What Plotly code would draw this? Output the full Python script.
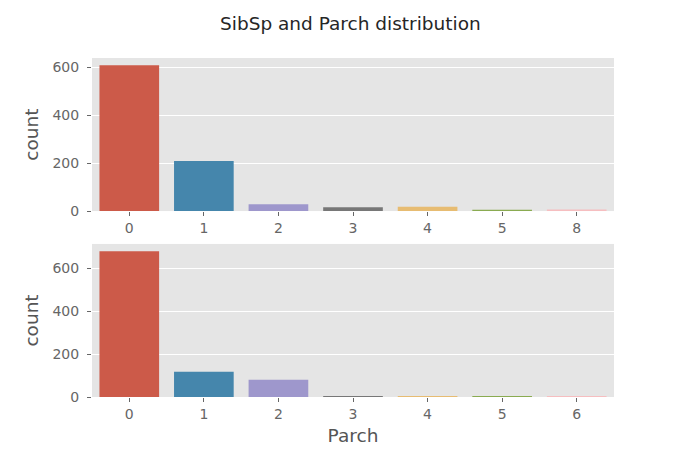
import plotly.graph_objects as go
from plotly.subplots import make_subplots

sibsp_cats = ["0", "1", "2", "3", "4", "5", "8"]
sibsp_counts = [608, 209, 28, 16, 18, 5, 7]
parch_cats = ["0", "1", "2", "3", "4", "5", "6"]
parch_counts = [678, 118, 80, 5, 4, 5, 1]
colors = ["#CC5A49", "#4586AC", "#9E97CC", "#777777", "#E7BC72", "#8AAB51", "#F6BEC0"]

fig = make_subplots(rows=2, cols=1, vertical_spacing=0.097)
fig.add_trace(go.Bar(x=sibsp_cats, y=sibsp_counts, marker_color=colors, width=0.8,
                     marker_line_width=0, showlegend=False), row=1, col=1)
fig.add_trace(go.Bar(x=parch_cats, y=parch_counts, marker_color=colors, width=0.8,
                     marker_line_width=0, showlegend=False), row=2, col=1)

font = dict(family="DejaVu Sans", color="#666666", size=14)
lab_font = dict(family="DejaVu Sans", size=18.5, color="#555555")
for r, vals in ((1, sibsp_counts), (2, parch_counts)):
    fig.update_xaxes(type="category", range=[-0.5, 6.5], showgrid=False, ticks="outside",
                     ticklen=4, tickcolor="#666666", tickfont=font, showline=False,
                     zeroline=False, row=r, col=1)
    fig.update_yaxes(range=[0, max(vals) * 1.05], tickvals=[0, 200, 400, 600], showgrid=True,
                     gridcolor="white", gridwidth=1.2, ticks="outside", ticklen=4,
                     tickcolor="#666666", tickfont=font, zeroline=False, ticklabelstandoff=5,
                     title=dict(text="count", font=lab_font, standoff=8),
                     row=r, col=1)
fig.update_xaxes(title=dict(text="Parch", font=lab_font, standoff=8), row=2, col=1)

fig.update_layout(
    width=674, height=470,
    margin=dict(l=84, r=68, t=50, b=81),
    paper_bgcolor="white", plot_bgcolor="#E5E5E5",
    title=dict(text="SibSp and Parch distribution", x=0.508, xanchor="center", y=0.968,
               yanchor="middle", font=dict(family="DejaVu Sans", size=18.5, color="#262626")),
    bargap=0.2,
)
fig.write_html("out.html")
